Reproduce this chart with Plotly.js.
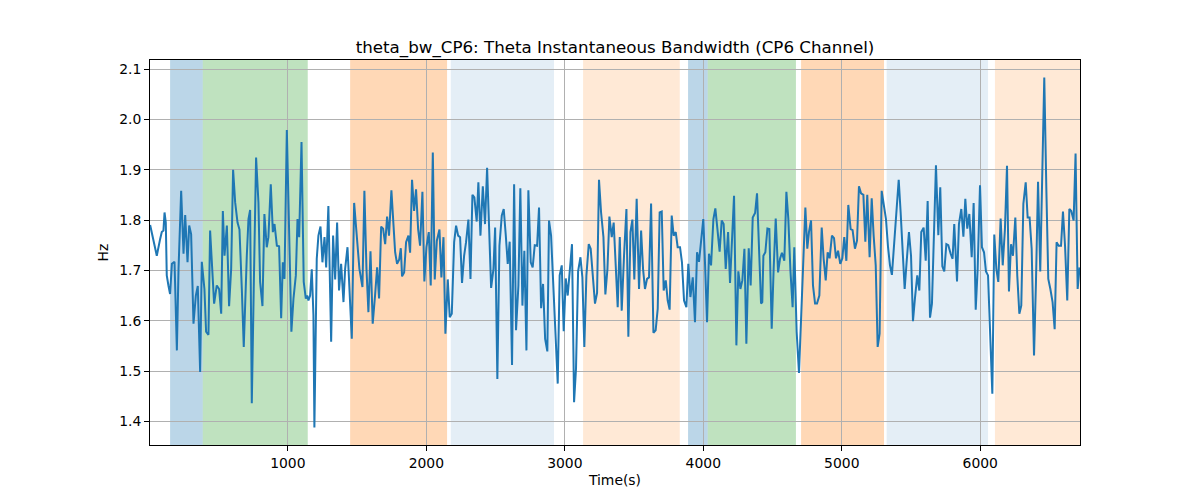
<!DOCTYPE html>
<html>
<head>
<meta charset="utf-8">
<script src="https://cdn.plot.ly/plotly-3.0.1.min.js"></script>
<style>
  body { margin: 0; background: #fff; }
  #myChart { width: 1200px; height: 500px; }
</style>
</head>
<body>
<div id="myChart"></div>
<script>
// time (s) and instantaneous bandwidth (Hz)
const timeS = [
  6,42,54,78,90,102,110,119,126,138,150,163,182,199,211,230,247,259,276,288,
  302,319,336,350,367,379,398,410,427,439,451,468,487,504,519,531,543,560,576,591,
  605,620,637,651,668,682,704,716,728,740,754,771,788,800,817,831,848,860,877,892,
  904,921,937,952,964,976,993,1010,1026,1041,1058,1070,1082,1099,1115,1130,1140,1149,1161,1173,
  1185,
  1192,1209,1221,1236,1250,1265,1277,1293,1313,1327,1342,1356,1370,1385,1402,1414,1431,1445,1462,1479,
  1498,1517,1539,1553,1568,1582,1597,1613,1630,1645,1659,1674,1688,1703,1717,1731,1748,1763,1775,1789,
  1804,1816,1825,1840,1854,1871,1883,1897,1912,1926,1941,1955,1972,1986,2001,2018,2032,2047,2061,2076,
  2095,2109,2124,2138,2155,2169,2184,2201,2215,2230,2244,2258,2273,2287,2304,2319,2333,2347,
  2364,2376,2391,2408,2424,2439,2453,2468,2485,2497,2513,2528,2545,2559,2574,2588,2602,2619,2634,2648,
  2665,2679,2694,2708,2723,2737,2754,2768,2783,2800,2814,2829,2843,2858,2874,2886,2901,2918,2935,2949,
  2963,2978,2992,3007,3021,3038,3052,3067,3081,3096,3113,3127,3141,3156,3173,3187,3202,3218,3233,3247,
  3262,3279,3293,3308,3322,3339,3353,3368,3382,3397,3411,3428,3445,3459,3474,3488,3502,
  3519,3536,3551,3565,3579,3594,3608,3623,3640,3656,3671,3685,3700,3714,3729,3743,3757,3772,3786,3801,
  3815,3832,3846,3861,3878,3892,3907,3924,3940,3955,3969,3984,4000,4013,4027,4041,4056,4073,4087,4102,
  4118,4133,4147,4162,4179,4193,4207,4222,4239,4253,4268,4282,4297,4311,4328,4342,4357,4374,4388,4402,
  4417,4426,4434,4448,4463,4477,4494,4508,4523,4540,4554,4568,4585,4600,4614,4629,4645,4657,
  4674,4691,4706,4722,4737,4751,4763,4778,4792,4807,4821,4838,4855,4869,4884,4898,4912,4929,4944,4958,
  4973,4989,5004,5018,5033,5047,5064,5078,5095,5110,5124,5139,5156,5170,5184,5201,5216,5230,5245,5259,
  5273,5288,5305,5319,5334,5348,5362,5379,5394,5411,5425,5439,5454,5468,5485,5500,5514,5528,5545,5560,
  5574,5591,5606,5620,5637,5651,5666,5680,5697,5711,5726,5740,5755,5769,5786,5800,5812,
  5832,5846,5863,5878,5892,5906,5921,5938,5952,5967,5981,5998,6012,6027,6041,6056,6072,6087,6101,6116,
  6130,6147,6162,6178,6193,6207,6222,6236,6253,6267,6282,6296,6311,6328,6342,6356,6371,6388,6402,6417,
  6433,6448,6462,6477,6491,6506,6522,6537,6551,6566,6583,6597,6612,6628,6643,6657,6674,6688,6703,6717
];

const thetaBw = [
  1.790,1.743,1.729,1.762,1.776,1.779,1.815,1.795,1.690,1.670,1.653,1.713,1.717,1.541,1.703,1.858,1.733,1.810,1.716,1.789,
  1.772,1.594,1.650,1.669,1.498,1.717,1.663,1.578,1.572,1.779,1.723,1.634,1.670,1.663,1.614,1.818,1.729,1.789,1.629,1.703,
  1.900,1.835,1.795,1.781,1.663,1.548,1.729,1.802,1.820,1.436,1.663,1.924,1.835,1.677,1.629,1.812,1.746,1.766,1.871,1.776,
  1.792,1.749,1.748,1.605,1.716,1.683,1.979,1.766,1.578,1.644,1.690,1.802,1.766,1.955,1.677,1.644,1.650,1.640,1.650,1.702,
  1.611,
  1.388,1.723,1.769,1.787,1.716,1.766,1.706,1.828,1.558,1.769,1.682,1.795,1.660,1.713,1.637,1.703,1.746,1.663,1.564,1.834,
  1.769,1.703,1.667,1.858,1.703,1.617,1.738,1.594,1.650,1.706,1.644,1.787,1.783,1.752,1.807,1.769,1.859,1.782,1.736,1.713,
  1.721,1.744,1.688,1.696,1.756,1.769,1.735,1.880,1.818,1.861,1.782,1.749,1.856,1.678,1.746,1.776,1.670,1.934,1.682,1.759,
  1.781,1.686,1.766,1.574,1.682,1.607,1.614,1.756,1.789,1.769,1.766,1.675,1.729,1.756,1.801,1.683,1.850,1.845,
  1.797,1.875,1.769,1.867,1.792,1.904,1.782,1.665,1.703,1.785,1.484,1.749,1.809,1.822,1.769,1.713,1.757,1.512,1.871,1.581,
  1.670,1.863,1.630,1.739,1.541,1.859,1.716,1.706,1.750,1.749,1.825,1.625,1.673,1.564,1.539,1.799,1.769,1.663,1.545,1.475,
  1.690,1.710,1.579,1.684,1.650,1.710,1.752,1.438,1.505,1.698,1.726,1.686,1.548,1.690,1.752,1.743,1.683,1.634,1.655,1.880,
  1.815,1.766,1.652,1.703,1.807,1.766,1.795,1.696,1.627,1.766,1.620,1.731,1.822,1.568,1.776,1.801,1.682,
  1.842,1.663,1.779,1.703,1.663,1.683,1.686,1.833,1.576,1.581,1.624,1.815,1.817,1.660,1.680,1.640,1.622,1.809,1.769,1.776,
  1.746,1.746,1.716,1.640,1.627,1.713,1.647,1.686,1.597,1.736,1.717,1.756,1.802,1.710,1.597,1.733,1.710,1.802,1.823,1.782,
  1.737,1.799,1.792,1.703,1.776,1.675,1.752,1.848,1.551,1.698,1.663,1.680,1.743,1.554,1.744,1.670,1.805,1.814,1.853,1.735,
  1.634,1.637,1.729,1.736,1.783,1.782,1.584,1.703,1.803,1.696,1.723,1.735,1.719,1.856,1.802,1.700,1.627,1.746,
  1.578,1.496,1.597,1.736,1.825,1.743,1.776,1.799,1.670,1.634,1.634,1.650,1.785,1.723,1.680,1.736,1.724,1.769,1.764,1.724,
  1.739,1.713,1.724,1.766,1.719,1.830,1.782,1.780,1.743,1.759,1.867,1.853,1.850,1.757,1.850,1.726,1.843,1.769,1.710,1.548,
  1.574,1.858,1.822,1.802,1.746,1.710,1.691,1.756,1.805,1.880,1.815,1.736,1.663,1.716,1.776,1.729,1.599,1.644,1.690,1.660,
  1.776,1.785,1.719,1.838,1.606,1.634,1.776,1.909,1.770,1.865,1.708,1.698,1.752,1.750,1.733,1.723,1.792,
  1.678,1.792,1.822,1.767,1.842,1.783,1.812,1.726,1.834,1.622,1.703,1.869,1.746,1.736,1.698,1.690,1.578,1.455,1.771,1.703,
  1.677,1.803,1.710,1.782,1.908,1.658,1.752,1.729,1.805,1.690,1.614,1.630,1.832,1.875,1.805,1.805,1.743,1.531,1.677,1.876,
  1.698,1.908,2.083,1.861,1.683,1.663,1.637,1.583,1.756,1.749,1.749,1.817,1.749,1.640,1.822,1.818,1.799,1.932,1.663,1.706
];

// shaded segments
const spanStart = [150, 386, 1450, 2177, 3132, 3890, 4032, 4706, 5324, 6106];
const spanEnd   = [386, 1144, 2150, 2922, 3830, 4032, 4669, 5305, 6056, 6720];
const spanColor = [
  "rgba(31,119,180,0.3)",  "rgba(44,160,44,0.3)",  "rgba(255,127,14,0.3)",
  "rgba(31,119,180,0.12)", "rgba(255,127,14,0.17)", "rgba(31,119,180,0.3)",
  "rgba(44,160,44,0.3)",   "rgba(255,127,14,0.3)",  "rgba(31,119,180,0.12)",
  "rgba(255,127,14,0.17)"
];

const xTicks = [1000, 2000, 3000, 4000, 5000, 6000];
const yTicks = [1.4, 1.5, 1.6, 1.7, 1.8, 1.9, 2.0, 2.1];

const FONT = "DejaVu Sans, sans-serif";

var shapes = spanStart.map((s, i) => ({
  type: "rect",
  xref: "x",
  yref: "paper",
  x0: s,
  x1: spanEnd[i],
  y0: 0,
  y1: 1,
  fillcolor: spanColor[i],
  line: { width: 0 },
  layer: "below",
}));

var data = {
  x: timeS,
  y: thetaBw,
  type: "scatter",
  mode: "lines",
  line: { color: "#1f77b4", width: 2 },
  hoverinfo: "x+y",
};

var axisCommon = {
  showgrid: true,
  gridcolor: "#b0b0b0",
  gridwidth: 1,
  zeroline: false,
  showline: true,
  mirror: true,
  linecolor: "#000",
  linewidth: 1,
  ticks: "outside",
  ticklen: 5,
  tickwidth: 1,
  tickcolor: "#000",
  tickfont: { family: FONT, size: 13.9, color: "#000" },
};

var layout = {
  width: 1200,
  height: 500,
  margin: { l: 150, r: 120, t: 60, b: 55 },
  paper_bgcolor: "#fff",
  plot_bgcolor: "#fff",
  showlegend: false,
  font: { family: FONT, color: "#000" },
  title: {
    text: "theta_bw_CP6: Theta Instantaneous Bandwidth (CP6 Channel)",
    font: { family: FONT, size: 16.7, color: "#000" },
    xref: "paper",
    x: 0.5,
    xanchor: "center",
    yref: "paper",
    y: 1,
    yanchor: "bottom",
    pad: { b: 7 },
  },
  xaxis: Object.assign({}, axisCommon, {
    range: [5, 6720],
    tickvals: xTicks,
    ticktext: xTicks.map(String),
    title: { text: "Time(s)", font: { family: FONT, size: 13.9, color: "#000" }, standoff: 5 },
  }),
  yaxis: Object.assign({}, axisCommon, {
    range: [1.353, 2.118],
    tickvals: yTicks,
    ticktext: yTicks.map((v) => v.toFixed(1)),
    title: { text: "Hz", font: { family: FONT, size: 13.9, color: "#000" }, standoff: 7 },
  }),
  shapes: shapes,
};

Plotly.newPlot("myChart", [data], layout, { displayModeBar: false, staticPlot: true });
</script>
</body>
</html>
